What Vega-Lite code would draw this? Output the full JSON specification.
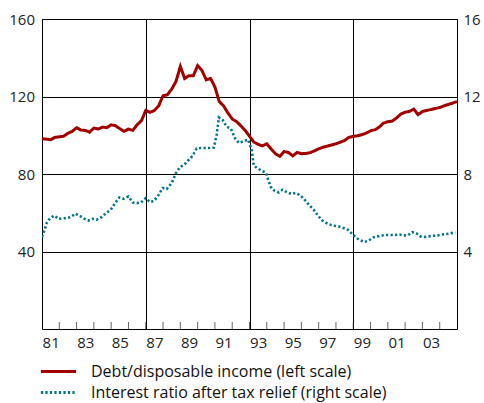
{
  "$schema": "https://vega.github.io/schema/vega-lite/v6.json",
  "width": 415,
  "height": 310,
  "autosize": "none",
  "padding": {"left": 42, "top": 19, "right": 27, "bottom": 74},
  "background": "white",
  "config": {
    "view": {"stroke": "#000", "strokeWidth": 1},
    "axis": {"labelFont": "Open Sans", "labelFontSize": 15, "labelColor": "#222", "domain": false, "title": null}
  },
  "datasets": {
    "debt": [
      {"t":1981.00,"v":98.2},{"t":1981.25,"v":98.0},{"t":1981.50,"v":97.7},{"t":1981.75,"v":98.9},
      {"t":1982.00,"v":99.2},{"t":1982.25,"v":99.5},{"t":1982.50,"v":101.0},{"t":1982.75,"v":102.0},
      {"t":1983.00,"v":103.9},{"t":1983.25,"v":102.7},{"t":1983.50,"v":102.5},{"t":1983.75,"v":101.6},
      {"t":1984.00,"v":103.7},{"t":1984.25,"v":103.2},{"t":1984.50,"v":104.2},{"t":1984.75,"v":103.9},
      {"t":1985.00,"v":105.4},{"t":1985.25,"v":104.9},{"t":1985.50,"v":103.4},{"t":1985.75,"v":102.0},
      {"t":1986.00,"v":103.2},{"t":1986.25,"v":102.5},{"t":1986.50,"v":105.4},{"t":1986.75,"v":107.5},
      {"t":1987.00,"v":112.8},{"t":1987.25,"v":111.8},{"t":1987.50,"v":112.8},{"t":1987.75,"v":115.2},
      {"t":1988.00,"v":120.4},{"t":1988.25,"v":120.9},{"t":1988.50,"v":123.8},{"t":1988.75,"v":127.8},
      {"t":1989.00,"v":135.5},{"t":1989.25,"v":129.3},{"t":1989.50,"v":130.7},{"t":1989.75,"v":130.7},
      {"t":1990.00,"v":135.9},{"t":1990.25,"v":133.4},{"t":1990.50,"v":128.6},{"t":1990.75,"v":129.3},
      {"t":1991.00,"v":124.9},{"t":1991.25,"v":117.4},{"t":1991.50,"v":115.2},{"t":1991.75,"v":111.5},
      {"t":1992.00,"v":108.4},{"t":1992.25,"v":107.1},{"t":1992.50,"v":104.9},{"t":1992.75,"v":102.5},
      {"t":1993.00,"v":99.5},{"t":1993.25,"v":96.5},{"t":1993.50,"v":95.3},{"t":1993.75,"v":94.5},
      {"t":1994.00,"v":95.6},{"t":1994.25,"v":92.9},{"t":1994.50,"v":90.5},{"t":1994.75,"v":89.1},
      {"t":1995.00,"v":91.6},{"t":1995.25,"v":91.1},{"t":1995.50,"v":89.4},{"t":1995.75,"v":91.1},
      {"t":1996.00,"v":90.5},{"t":1996.25,"v":90.6},{"t":1996.50,"v":91.0},{"t":1996.75,"v":91.9},
      {"t":1997.00,"v":93.0},{"t":1997.25,"v":93.8},{"t":1997.50,"v":94.4},{"t":1997.75,"v":95.0},
      {"t":1998.00,"v":95.6},{"t":1998.25,"v":96.4},{"t":1998.50,"v":97.3},{"t":1998.75,"v":98.9},
      {"t":1999.00,"v":99.4},{"t":1999.25,"v":99.7},{"t":1999.50,"v":100.3},{"t":1999.75,"v":101.1},
      {"t":2000.00,"v":102.3},{"t":2000.25,"v":102.8},{"t":2000.50,"v":104.2},{"t":2000.75,"v":106.3},
      {"t":2001.00,"v":107.0},{"t":2001.25,"v":107.3},{"t":2001.50,"v":108.9},{"t":2001.75,"v":110.9},
      {"t":2002.00,"v":111.9},{"t":2002.25,"v":112.3},{"t":2002.50,"v":113.5},{"t":2002.75,"v":110.6},
      {"t":2003.00,"v":112.3},{"t":2003.25,"v":112.8},{"t":2003.50,"v":113.3},{"t":2003.75,"v":113.8},
      {"t":2004.00,"v":114.3},{"t":2004.25,"v":115.2},{"t":2004.50,"v":115.9},{"t":2004.75,"v":116.6},
      {"t":2005.00,"v":117.4}
    ],
    "interest": [
      {"t":1981.00,"v":4.75},{"t":1981.15,"v":5.12},{"t":1981.29,"v":5.50},{"t":1981.48,"v":5.73},
      {"t":1981.71,"v":5.85},{"t":1981.96,"v":5.68},{"t":1982.21,"v":5.71},{"t":1982.44,"v":5.73},
      {"t":1982.67,"v":5.78},{"t":1982.92,"v":5.95},{"t":1983.17,"v":5.85},{"t":1983.40,"v":5.71},
      {"t":1983.69,"v":5.60},{"t":1983.94,"v":5.69},{"t":1984.17,"v":5.64},{"t":1984.46,"v":5.78},
      {"t":1984.71,"v":5.99},{"t":1984.98,"v":6.16},{"t":1985.23,"v":6.50},{"t":1985.48,"v":6.79},
      {"t":1985.71,"v":6.72},{"t":1986.00,"v":6.84},{"t":1986.25,"v":6.53},{"t":1986.48,"v":6.50},
      {"t":1986.73,"v":6.53},{"t":1987.00,"v":6.76},{"t":1987.25,"v":6.55},{"t":1987.48,"v":6.62},
      {"t":1987.73,"v":6.90},{"t":1987.98,"v":7.28},{"t":1988.21,"v":7.22},{"t":1988.50,"v":7.53},
      {"t":1988.75,"v":8.05},{"t":1988.98,"v":8.36},{"t":1989.23,"v":8.48},{"t":1989.46,"v":8.70},
      {"t":1989.71,"v":8.94},{"t":1989.94,"v":9.32},{"t":1990.19,"v":9.34},{"t":1990.46,"v":9.34},
      {"t":1990.71,"v":9.34},{"t":1990.94,"v":9.36},{"t":1991.10,"v":10.03},{"t":1991.23,"v":10.92},
      {"t":1991.44,"v":10.80},{"t":1991.67,"v":10.45},{"t":1991.92,"v":10.34},{"t":1992.19,"v":9.80},
      {"t":1992.40,"v":9.60},{"t":1992.67,"v":9.70},{"t":1992.92,"v":9.77},{"t":1993.12,"v":9.25},
      {"t":1993.25,"v":8.43},{"t":1993.44,"v":8.31},{"t":1993.69,"v":8.17},{"t":1993.94,"v":8.08},
      {"t":1994.08,"v":7.70},{"t":1994.23,"v":7.33},{"t":1994.42,"v":7.15},{"t":1994.69,"v":7.05},
      {"t":1994.91,"v":7.19},{"t":1995.17,"v":7.05},{"t":1995.43,"v":6.97},{"t":1995.67,"v":7.02},
      {"t":1995.95,"v":6.89},{"t":1996.19,"v":6.67},{"t":1996.44,"v":6.41},{"t":1996.71,"v":6.16},
      {"t":1996.96,"v":5.85},{"t":1997.21,"v":5.60},{"t":1997.45,"v":5.47},{"t":1997.68,"v":5.38},
      {"t":1997.92,"v":5.33},{"t":1998.17,"v":5.29},{"t":1998.44,"v":5.21},{"t":1998.69,"v":5.12},
      {"t":1998.92,"v":4.92},{"t":1999.18,"v":4.70},{"t":1999.42,"v":4.57},{"t":1999.66,"v":4.49},
      {"t":1999.90,"v":4.57},{"t":2000.17,"v":4.73},{"t":2000.42,"v":4.78},{"t":2000.68,"v":4.83},
      {"t":2000.92,"v":4.85},{"t":2001.20,"v":4.85},{"t":2001.43,"v":4.85},{"t":2001.68,"v":4.88},
      {"t":2001.92,"v":4.83},{"t":2002.15,"v":4.83},{"t":2002.41,"v":5.00},{"t":2002.64,"v":4.95},
      {"t":2002.89,"v":4.78},{"t":2003.12,"v":4.75},{"t":2003.37,"v":4.78},{"t":2003.64,"v":4.81},
      {"t":2003.88,"v":4.83},{"t":2004.14,"v":4.88},{"t":2004.40,"v":4.90},{"t":2004.66,"v":4.95},
      {"t":2004.91,"v":4.98}
    ],
    "years": [
      {"t":1982},{"t":1983},{"t":1984},{"t":1985},{"t":1986},{"t":1987},{"t":1988},{"t":1989},
      {"t":1990},{"t":1991},{"t":1992},{"t":1993},{"t":1994},{"t":1995},{"t":1996},{"t":1997},
      {"t":1998},{"t":1999},{"t":2000},{"t":2001},{"t":2002},{"t":2003},{"t":2004}
    ]
  },
  "encoding": {
    "x": {
      "field": "t", "type": "quantitative",
      "scale": {"domain": [1981, 2005], "nice": false, "zero": false},
      "axis": {
        "values": [1981,1982,1983,1984,1985,1986,1987,1988,1989,1990,1991,1992,1993,1994,1995,1996,1997,1998,1999,2000,2001,2002,2003,2004],
        "tickCount": 200,
        "labelExpr": "datum.value % 2 == 1 ? slice('0' + (datum.value % 100), -2) : ''",
        "labelOverlap": false,
        "labelFlush": false,
        "labelOffset": 8.66,
        "labelPadding": 6,
        "ticks": false,
        "grid": true,
        "gridColor": "#000",
        "gridWidth": 1,
        "gridOpacity": {"condition": {"test": "datum.value == 1987 || datum.value == 1993 || datum.value == 1999", "value": 1}, "value": 0}
      }
    }
  },
  "layer": [
    {
      "data": {"name": "debt"},
      "mark": {"type": "line", "strokeWidth": 3, "clip": true},
      "encoding": {
        "y": {
          "field": "v", "type": "quantitative",
          "scale": {"domain": [0, 160], "nice": false},
          "axis": {"orient": "left", "values": [40, 80, 120, 160], "tickCount": 20, "ticks": false, "grid": true, "gridColor": "#000", "gridOpacity": 1, "gridWidth": 1, "labelPadding": 7.5}
        },
        "color": {
          "datum": "Debt/disposable income (left scale)", "type": "nominal",
          "scale": {"domain": ["Debt/disposable income (left scale)", "Interest ratio after tax relief (right scale)"], "range": ["#a00000", "#00738c"]},
          "legend": {
            "orient": "none", "legendX": 7, "legendY": 343, "title": null, "padding": 0,
            "symbolType": "M-2.2,0L2.2,0", "symbolSize": 256, "symbolStrokeWidth": 3,
            "labelFont": "Open Sans", "labelFontSize": 16, "labelColor": "#111", "labelOffset": 23,
            "labelLimit": 0, "rowPadding": 3
          }
        },
        "strokeDash": {
          "datum": "Debt/disposable income (left scale)", "type": "nominal",
          "scale": {"domain": ["Debt/disposable income (left scale)", "Interest ratio after tax relief (right scale)"], "range": [[1, 0], [2.2, 2.3]]},
          "legend": {
            "orient": "none", "legendX": 7, "legendY": 343, "title": null, "padding": 0,
            "symbolType": "M-2.2,0L2.2,0", "symbolSize": 256, "symbolStrokeWidth": 3,
            "labelFont": "Open Sans", "labelFontSize": 16, "labelColor": "#111", "labelOffset": 23,
            "labelLimit": 0, "rowPadding": 3
          }
        }
      }
    },
    {
      "data": {"name": "interest"},
      "mark": {"type": "line", "strokeWidth": 2.6, "clip": true},
      "encoding": {
        "y": {
          "field": "v", "type": "quantitative",
          "scale": {"domain": [0, 16], "nice": false},
          "axis": {"orient": "right", "values": [4, 8, 12, 16], "tickCount": 20, "ticks": false, "grid": false, "labelPadding": 6}
        },
        "color": {"datum": "Interest ratio after tax relief (right scale)", "type": "nominal"},
        "strokeDash": {"datum": "Interest ratio after tax relief (right scale)", "type": "nominal"}
      }
    },
    {
      "data": {"name": "years"},
      "mark": {"type": "tick", "orient": "vertical", "size": 14, "thickness": 1, "color": "#222", "clip": true},
      "encoding": {
        "y": {"datum": 0, "type": "quantitative", "scale": {"domain": [0, 160], "nice": false}, "axis": null}
      }
    }
  ],
  "resolve": {"scale": {"y": "independent"}}
}
